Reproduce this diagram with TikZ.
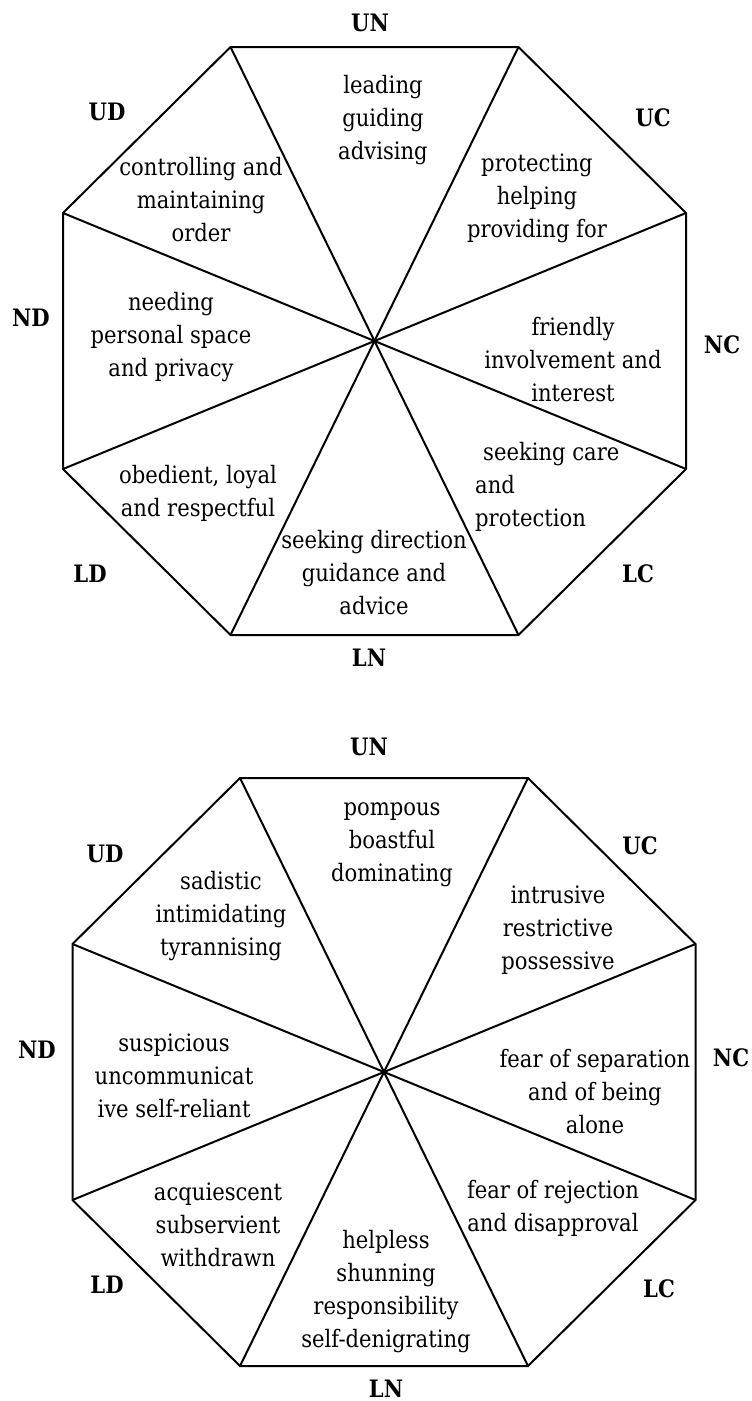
\documentclass[tikz,border=0pt]{standalone}
\usepackage{fontspec}
\setmainfont{DejaVu Serif}[FakeStretch=0.88]
\usepackage{tikz}

\begin{document}
\begin{tikzpicture}[
    x=1pt, y=-1pt,
    octline/.style={line width=2pt, line join=miter},
    sector/.style={align=center, inner sep=0pt, font=\fontsize{24}{33}\selectfont},
    pole/.style={inner sep=0pt, font=\fontsize{24}{33}\selectfont\bfseries}
]

\useasboundingbox (0,0) rectangle (752,1401);

% --- PARAMETER (halbe Breiten/Hoehen des Achtecks) ---
\def\rx{311.5}
\def\ry{128}
\def\tx{144}
\def\ty{294}

% --- ECKPUNKTE: 1 = oben, 2 = unten ---
\foreach \o/\cx/\cy in {1/374.5/341, 2/384/1072} {
  \coordinate (c\o) at (\cx,\cy);
  \coordinate (v\o1) at (\cx-\tx,\cy-\ty);
  \coordinate (v\o2) at (\cx+\tx,\cy-\ty);
  \coordinate (v\o3) at (\cx+\rx,\cy-\ry);
  \coordinate (v\o4) at (\cx+\rx,\cy+\ry);
  \coordinate (v\o5) at (\cx+\tx,\cy+\ty);
  \coordinate (v\o6) at (\cx-\tx,\cy+\ty);
  \coordinate (v\o7) at (\cx-\rx,\cy+\ry);
  \coordinate (v\o8) at (\cx-\rx,\cy-\ry);
}

% --- RAHMEN + SPEICHEN ---
\foreach \o in {1,2} {
  \draw[octline] (v\o1) -- (v\o2) -- (v\o3) -- (v\o4) -- (v\o5) -- (v\o6) -- (v\o7) -- (v\o8) -- cycle;
  \foreach \k in {1,...,8} \draw[octline] (v\o\k) -- (c\o);
}

% --- ACHSEN (oben) ---
\node[pole] (un1) at (370,23) {UN};
\node[pole] (uc1) at (653,118) {UC};
\node[pole] (nc1) at (722,345) {NC};
\node[pole] (lc1) at (638,574) {LC};
\node[pole] (ln1) at (369,658) {LN};
\node[pole] (ld1) at (90,574) {LD};
\node[pole] (nd1) at (31,318) {ND};
\node[pole] (ud1) at (107,112) {UD};

% --- SEKTOREN (oben) ---
\node[sector] (lead) at (383,120) {leading\\guiding\\advising};
\node[sector] (protect) at (537,198) {protecting\\helping\\providing for};
\node[sector] (friendly) at (573,360) {friendly\\involvement and\\interest};
\node[sector, align=left, anchor=west] (care) at (475,487) {\hspace{8pt}seeking care\\and\\protection};
\node[sector] (direction) at (374,573) {seeking direction\\guidance and\\advice};
\node[sector] (obedient) at (198,493) {obedient, loyal\\and respectful};
\node[sector] (space) at (171,337) {needing\\personal space\\and privacy};
\node[sector] (control) at (201,200) {controlling and\\maintaining\\order};

% --- ACHSEN (unten) ---
\node[pole] (un2) at (369,747) {UN};
\node[pole] (uc2) at (640,846) {UC};
\node[pole] (nc2) at (731,1058) {NC};
\node[pole] (lc2) at (659,1289) {LC};
\node[pole] (ln2) at (386,1389) {LN};
\node[pole] (ld2) at (107,1285) {LD};
\node[pole] (nd2) at (37,1050) {ND};
\node[pole] (ud2) at (105,854) {UD};

% --- SEKTOREN (unten) ---
\node[sector] (pompous) at (392,845) {pompous\\boastful\\dominating};
\node[sector] (intrusive) at (558,930) {intrusive\\restrictive\\possessive};
\node[sector] (separation) at (595,1092) {fear of separation\\and of being\\alone};
\node[sector] (rejection) at (553,1208) {fear of rejection\\and disapproval};
\node[sector] (helpless) at (386,1292) {helpless\\shunning\\responsibility\\self-denigrating};
\node[sector] (acquiescent) at (218,1225) {acquiescent\\subservient\\withdrawn};
\node[sector] (suspicious) at (174,1076) {suspicious\\uncommunicat\\ive self-reliant};
\node[sector] (sadistic) at (221,916) {sadistic\\intimidating\\tyrannising};

\end{tikzpicture}
\end{document}
